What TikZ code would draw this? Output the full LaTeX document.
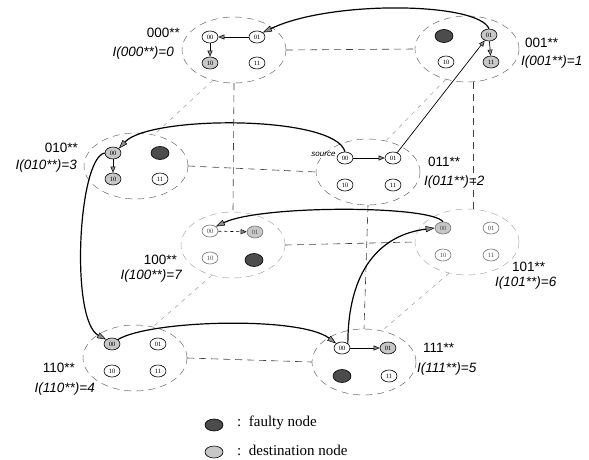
\documentclass[tikz,border=0pt]{standalone}
\usepackage{fontspec}
\setmainfont{Liberation Serif}
\newfontfamily\arial{Liberation Sans}
\usetikzlibrary{shapes.geometric,arrows.meta}

\begin{document}
\begin{tikzpicture}[x=1pt,y=-1pt,
    clus/.style={draw=black!70,dash pattern=on 7pt off 5pt,ellipse,minimum width=104pt,minimum height=66pt,inner sep=0pt},
    backclus/.style={clus,draw=black!40},
    pe/.style={draw,ellipse,minimum width=16pt,minimum height=12pt,inner sep=0pt,line width=.6pt,font=\fontsize{6.5}{6.5}\selectfont},
    faded/.style={draw=black!55,text=black!70},
    dest/.style={pe,fill=black!22},
    faulty/.style={pe,fill=black!70,minimum width=18pt,minimum height=13pt},
    cubeedge/.style={draw=black!75,dash pattern=on 7pt off 5pt,line width=.6pt},
    backedge/.style={draw=black!35,dash pattern=on 4pt off 5pt,line width=.6pt},
    route/.style={line width=1.2pt,-{Triangle[length=9pt,width=6pt,line width=.5pt,fill=black!45]}},
    hop/.style={line width=.7pt,-{Triangle[length=6pt,width=5pt,line width=.5pt,fill=black!45]}},
    lab/.style={font=\arial\fontsize{13.5}{13.5}\selectfont,inner sep=0pt},
    ilab/.style={font=\arial\itshape\fontsize{13.5}{13.5}\selectfont,inner sep=0pt}]
  \useasboundingbox (0,0) rectangle (589,460);
  % clusters
  \node[clus] (c000) at (234,50) {};
  \node[clus] (c001) at (467,49) {};
  \node[clus] (c010) at (136,166) {};
  \node[clus] (c011) at (368,172) {};
  \node[backclus] (c100) at (233,245) {};
  \node[backclus] (c101) at (467,242) {};
  \node[clus] (c110) at (135,358) {};
  \node[clus] (c111) at (364,362) {};
  % cube edges
  \draw[cubeedge] (c000.east) -- (c001.west);
  \draw[cubeedge] (c010.east) -- (c011.west);
  \draw[cubeedge] (c100.east) -- (c101.west);
  \draw[cubeedge] (c110.east) -- (c111.west);
  \draw[cubeedge] (c000.south) -- (c100.north);
  \draw[cubeedge] (c001.-80) -- (c101.80);
  \draw[cubeedge] (c011.south) -- (c111.north);
  \draw[backedge] (c000.235) -- (c010.60);
  \draw[backedge] (c001.235) -- (c011.60);
  \draw[backedge] (c100.235) -- (c110.60);
  \draw[backedge] (c101.240) -- (c111.60);
  % 000**
  \node[pe] (n000x00) at (210,37) {00};
  \node[pe] (n000x01) at (257,37) {01};
  \node[dest] (n000x10) at (210,63) {10};
  \node[pe] (n000x11) at (257,63) {11};
  % 001**
  \node[faulty] (n001x00) at (444,36) {};
  \node[dest] (n001x01) at (489,35) {01};
  \node[pe] (n001x10) at (446,62) {10};
  \node[dest] (n001x11) at (491,62) {11};
  % 010**
  \node[dest] (n010x00) at (113,153) {00};
  \node[faulty] (n010x01) at (160,153) {};
  \node[dest] (n010x10) at (113,179) {10};
  \node[pe] (n010x11) at (160,179) {11};
  % 011**
  \node[pe] (n011x00) at (345,158) {00};
  \node[pe] (n011x01) at (393,158) {01};
  \node[pe] (n011x10) at (345,185) {10};
  \node[pe] (n011x11) at (393,185) {11};
  % 100**
  \node[pe,faded] (n100x00) at (210,231) {00};
  \node[dest,faded] (n100x01) at (255,232) {01};
  \node[pe,faded] (n100x10) at (210,258) {10};
  \node[faulty] (n100x11) at (254,260) {};
  % 101**
  \node[dest,faded] (n101x00) at (443,228) {00};
  \node[pe,faded] (n101x01) at (491,228) {01};
  \node[pe,faded] (n101x10) at (443,255) {10};
  \node[pe,faded] (n101x11) at (491,255) {11};
  % 110**
  \node[dest] (n110x00) at (112,344) {00};
  \node[pe] (n110x01) at (158,344) {01};
  \node[pe] (n110x10) at (112,371) {10};
  \node[pe] (n110x11) at (158,371) {11};
  % 111**
  \node[pe] (n111x00) at (342,348) {00};
  \node[dest] (n111x01) at (388,348) {01};
  \node[faulty] (n111x10) at (342,376) {};
  \node[pe] (n111x11) at (389,376) {11};
  % labels
  \node[lab,anchor=east] (l000) at (180,33) {000**};
  \node[ilab,anchor=east] (i000) at (174,53) {I(000**)=0};
  \node[lab,anchor=west] (l001) at (525,43) {001**};
  \node[ilab,anchor=west] (i001) at (521,62) {I(001**)=1};
  \node[lab,anchor=east] (l010) at (78,148) {010**};
  \node[ilab,anchor=east] (i010) at (77,166) {I(010**)=3};
  \node[lab,anchor=west] (l011) at (428,162) {011**};
  \node[ilab,anchor=west] (i011) at (424,182) {I(011**)=2};
  \node[lab,anchor=east] (l100) at (177,260) {100**};
  \node[ilab,anchor=east] (i100) at (182,276) {I(100**)=7};
  \node[lab,anchor=west] (l101) at (512,267) {101**};
  \node[ilab,anchor=west] (i101) at (495,283) {I(101**)=6};
  \node[lab,anchor=east] (l110) at (75,368) {110**};
  \node[ilab,anchor=east] (i110) at (95,389) {I(110**)=4};
  \node[lab,anchor=west] (l111) at (423,348) {111**};
  \node[ilab,anchor=west] (i111) at (417,369) {I(111**)=5};
  \node[font=\arial\itshape\fontsize{8}{8}\selectfont,anchor=south east,inner sep=1pt] (src) at (n011x00.west) {source};
  % routing
  \draw[hop] (n011x00) -- (n011x01);
  \draw[hop] (n011x01) -- (n001x01);
  \draw[hop] (n001x01) -- (n001x11);
  \draw[route] (n001x01.north) .. controls (478,2) and (330,0) .. (n000x01.north east);
  \draw[hop] (n000x01) -- (n000x00);
  \draw[hop] (n000x00) -- (n000x10);
  \draw[route] (n011x00.north) .. controls (335,115) and (150,115) .. (n010x00.north east);
  \draw[hop] (n010x00) -- (n010x10);
  \draw[route] (n010x00.west) .. controls (78,158) and (70,320) .. (n110x00.north west);
  \draw[route] (n110x00.north east) .. controls (150,320) and (300,316) .. (n111x00.north west);
  \draw[hop] (n111x00) -- (n111x01);
  \draw[route] (n111x00.north east) .. controls (348,270) and (380,235) .. (n101x00.west);
  \draw[route] (n101x00.north) .. controls (430,205) and (260,205) .. (n100x00.north east);
  \draw[hop,dashed] (n100x00) -- (n100x01);
  % legend
  \node[faulty,minimum width=18pt,minimum height=12pt] (kf) at (214,425) {};
  \node[anchor=west,font=\fontsize{15}{15}\selectfont,inner sep=0pt] (tf) at (237,423) {:\enspace faulty node};
  \node[dest,minimum width=18pt,minimum height=12pt] (kd) at (214,452) {};
  \node[anchor=west,font=\fontsize{15}{15}\selectfont,inner sep=0pt] (td) at (237,450) {:\enspace destination node};
\end{tikzpicture}
\end{document}
